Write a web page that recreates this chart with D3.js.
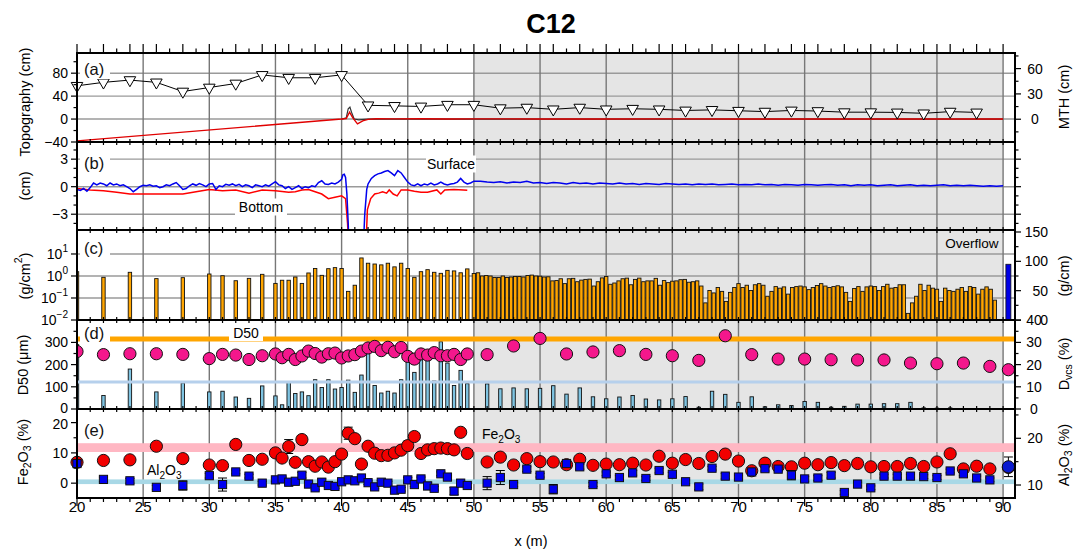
<!DOCTYPE html>
<html><head><meta charset="utf-8">
<script src="https://cdn.jsdelivr.net/npm/d3@7"></script>
<style>body{margin:0;background:#fff;} svg{display:block;font-family:"Liberation Sans",Arial,Helvetica,sans-serif;}</style>
</head><body><svg id="c" width="1084" height="554"></svg>
<script>
// ---------------- DATA ----------------
// (a) Topography / MTH
const triX = [20,22,24,26,28,30,32,34,36,38,40,42,44,46,48,50,52,54,56,58,60,62,64,66,68,70,72,74,76,78,80,82,84,86,88];
const triV = [58,64,68,64,48,55,62,77,72,72,77,24,23,22,25,25,19,20,17,20,17,18,17,15,16,14.5,13,15,14,12,12,11.6,10,13,11.6];
const redTopoX = [20,40,40.35,40.6,40.85,41.2,41.6,42,42.6,44,46,48,50,55,60,65,70,75,80,85,90];
const redTopoV = [-38,0,1,12,2,-8.5,-3,-0.5,0.5,0.3,0.5,0.2,0.3,0.2,0,0.3,0.1,0,0.2,0,0.1];
const blackTopoX = [40,40.35,40.5,40.63,40.75,40.95,41.3,42,44,50,60,70,80,90];
const blackTopoV = [0,2,18,21,12,0,-1.5,0,0,0,0,0,0,0];
// (b) Surface / Bottom (cm)
const surf1Start = 20, surf1Step = 0.25;
const surf1 = [-0.3,-0.4,-0.2,-0.5,-0.1,0.4,0.2,0.4,0.3,0.1,0.4,0.2,0.3,0.1,0.2,0.0,-0.2,-0.55,-0.3,0.0,
  0.15,0.1,0.2,0.05,0.1,-0.1,0.0,0.2,0.1,0.3,0.45,0.1,-0.3,-0.2,0.1,0.3,0.15,0.35,0.2,0.0,
  0.3,0.35,-0.3,0.1,0.0,0.25,0.15,0.3,0.1,0.25,0.0,0.2,0.1,-0.1,0.2,0.1,0.0,0.2,0.05,0.3,
  0.55,0.2,0.1,-0.2,0.0,-0.3,-0.1,0.1,-0.2,0.0,-0.1,0.1,0.0,0.45,0.65,0.3,0.25,0.4,0.3,0.5,0.8];
const surf2X = [40.1,40.2,40.3,40.4,40.5,40.6,41.6,41.75,41.9];
const surf2 = [1.3,1.35,1.0,-0.8,-4,-8,-8,-3,-0.3];
const surf3Start = 42, surf3Step = 0.25;
const surf3 = [0.3,0.9,1.2,1.4,1.5,1.65,1.75,1.5,1.2,1.75,1.5,1.0,0.5,0.2,0.1,0.3,0.1,0.3,0.2,0.4,0.2,0.3,0.5,0.3,0.2,0.3,0.35,0.5,0.9,0.5,0.3,0.4,0.6];
const surf4Start = 50.5, surf4Step = 0.5;
const surf4 = [0.6,0.5,0.45,0.55,0.4,0.5,0.45,0.6,0.4,0.45,0.35,0.45,0.4,0.3,0.45,0.35,0.4,0.3,0.4,0.35,
  0.3,0.4,0.3,0.35,0.25,0.35,0.3,0.25,0.35,0.3,0.25,0.3,0.2,0.3,0.25,0.3,0.2,0.25,0.3,0.2,
  0.25,0.2,0.3,0.2,0.25,0.15,0.25,0.2,0.15,0.25,0.2,0.15,0.2,0.25,0.15,0.2,0.1,0.2,0.15,0.2,
  0.1,0.15,0.2,0.1,0.15,0.2,0.1,0.15,0.1,0.15,0.2,0.1,0.15,0.1,0.15,0.1,0.05,0.1,0.05,0.1];
const botX = [20,21,22,23,24,26,28,29,30,31,32,33,34,35,36,36.5,37,37.5,38,38.5,39,39.5,40,40.3,40.45,40.6,41.8,41.95,42.2,42.5,42.8,43.1,43.4,43.6,43.9,44.2,44.5,45,45.5,46,46.5,47.2,47.5,47.8,48.5,49.2,49.5];
const botV = [-0.2,-0.35,-0.45,-0.6,-0.8,-0.8,-0.8,-0.55,-0.3,-0.45,-0.36,-0.7,-0.36,-0.45,-0.6,-0.55,-0.36,-0.3,-0.55,-0.8,-1.3,-1.15,-1.0,-1.3,-4,-8,-8,-2.5,-1.3,-0.8,-0.7,-0.55,-0.7,-0.35,-0.8,-1.0,-0.35,-0.35,-0.5,-0.6,-0.6,-0.35,-0.8,-0.35,-0.3,-0.35,-0.4];
// sample positions
const sampleX1 = [20,22,24,26,28,30,31,32,33,34,35,35.5,36,36.5,37,37.5,38,38.5,39,39.5,40,40.5,41,41.5,42,42.5,43,43.5,44,44.5,45,45.5,46,46.5,47,47.5,48,48.5,49,49.5];
const sampleX2 = [51,52,53,54,55,56,57,58,59,60,61,62,63,64,65,66,67,68,69,70,71,72,73,74,75,76,77,78,79,80,81,82,83,84,85,86,87,88,89];
const overflowX = 90.4;
// (c) deposit mass (g/cm^2)
const massLeft = [1.57,0.87,1.47,0.76,0.84,1.23,1.03,0.61,0.78,1.19,0.46,0.64,0.64,0.9,0.46,1.37,2.2,1.07,2.15,2.4,2.2,0.2,0.38,6.6,3.8,3.5,3.2,3.8,2.6,3.8,2.2,0.87,1.57,1.94,1.47,1.32,1.8,1.7,1.4,2.1];
const massFineStart = 50, massFineStep = 0.3125;
const massFine = [1.3,1.4,1.0,1.05,1.0,0.85,0.85,1.0,0.85,0.9,0.95,0.95,0.9,1.05,1.1,1.0,0.98,0.9,0.92,0.6,
  0.62,0.75,0.45,0.75,0.78,0.55,0.65,0.7,0.72,0.35,0.55,0.82,0.95,0.42,0.48,0.6,0.75,0.8,0.4,0.7,
  0.8,0.55,0.6,0.6,0.78,0.38,0.62,0.5,0.58,0.6,0.68,0.7,0.52,0.55,0.6,0.35,0.06,0.22,0.17,0.3,
  0.2,0.07,0.18,0.3,0.45,0.3,0.38,0.22,0.4,0.45,0.38,0.12,0.2,0.33,0.28,0.32,0.15,0.3,0.33,0.35,
  0.32,0.24,0.3,0.37,0.45,0.35,0.3,0.33,0.36,0.32,0.18,0.07,0.27,0.33,0.2,0.32,0.35,0.33,0.22,0.33,
  0.42,0.28,0.3,0.4,0.4,0.02,0.06,0.12,0.42,0.22,0.38,0.28,0.25,0.07,0.28,0.22,0.2,0.25,0.3,0.2,
  0.33,0.3,0.15,0.25,0.32,0.25,0.08];
const overflowMass = 95; // g/cm
// (d) grain size
const d50Left = [259,245,249,249,246,227,246,243,223,240,248,231,246,223,239,261,250,234,249,252,230,239,245,261,275,282,263,278,258,277,237,225,248,243,254,240,240,246,223,248];
const d50RightX = [51,53,55,57,59,61,63,65,67,69,71,73,75,77,79,81,83,85,87,89,90.4];
const d50Right = [245,284,318,248,257,263,246,240,219,330,245,225,225,222,221,221,207,204,207,192,177];
const dvcsLeft = [29,6.1,18,7.7,11.7,7.7,8,5.4,4.8,10.4,5.9,1.9,12.2,7,7.7,6,13.2,9.7,13.2,9,9.7,13,7.5,15.3,25.5,10.6,7.2,8,7.2,13.2,23.2,16.5,22.9,22.5,12.6,30.3,20.7,10.6,17.4,11.4];
const dvcsRight = [11.3,9.1,9.5,9.1,9.3,10.5,6.7,9.5,5.5,4.6,5.4,6.1,4.5,4.1,4.6,5.6,0.8,8.0,6.6,3.0,5.5,1.0,1.9,1.6,3.4,3.0,0.8,1.2,2.2,2.2,2.4,2.4,3.0,0.5,0.4,0.5,0.2,0.2,0.2];
const d50Ref = 315, dvcsRef = 12.2;
// (e) chemistry
const feLeft = [6.9,7.5,7.7,12.2,8.1,6.0,5.8,12.8,7.5,7.9,10,8.3,12.1,6.9,14.4,7.1,5.6,7.0,5.3,7.1,9.6,16.5,14.7,6.3,12.2,9.9,9.1,9.2,10,10.9,12.4,15.4,9.8,11,11.4,11.6,11.4,11,16.8,9.8];
const feLeftErr = [0.8,0.6,0.6,0.6,0.6,0.6,0.6,0.8,1.2,0.6,0.6,0.6,2.3,0.6,1.3,0.6,0.6,0.6,0.6,0.6,0.8,2.0,0.6,0.6,0.6,0.6,0.6,0.6,0.6,0.6,1.5,0.6,0.6,1.3,1.3,0.6,0.6,0.6,0.6,0.6];
const feRight = [7.0,8.6,6.0,8.1,7.1,7.0,6.1,7.9,5.9,6.3,6.1,6.6,6.0,8.9,6.6,7.8,6.5,8.8,9.6,7.3,4.1,6.6,5.5,5.4,6.6,6.1,6.8,5.8,6.5,5.4,5.5,5.5,6.5,5.5,7.0,9.7,4.7,5.6,4.7];
const feRightErr = [0.6,0.6,0.5,0.6,0.5,0.5,0.5,0.6,0.5,0.5,0.5,0.6,0.5,0.6,0.5,0.6,0.5,0.6,0.8,0.6,0.5,0.6,0.5,0.5,0.6,0.5,0.5,0.5,0.5,0.5,0.5,0.5,0.5,0.5,0.6,0.8,0.5,0.5,0.5];
const alLeft = [14.6,11.2,10.9,9.5,9.9,12.0,10.1,12.8,11.9,10.4,11.1,11.3,10.6,10.8,12.1,10.2,9.4,10.6,9.9,9.7,10.7,11.1,10.9,11.5,10.5,9.6,10.6,10.4,8.9,9.1,11.1,10.1,11.3,9.8,9.3,12.4,11.7,8.7,10.4,9.9];
const alLeftErr = [0.6,0.5,0.5,0.4,1.0,0.5,1.4,0.4,0.4,0.4,0.4,0.4,0.5,0.4,0.6,0.4,0.4,0.7,0.4,0.4,0.4,0.4,0.4,0.4,0.4,0.4,0.4,0.4,0.4,0.4,0.5,0.4,0.4,0.8,0.4,0.4,0.4,0.8,0.4,0.4];
const alRight = [10.4,11.6,10.1,13.4,12.1,9.1,14.6,13.9,10.1,12.4,11.6,12.6,11.4,13.1,12.3,10.7,9.6,13.6,11.9,11.7,12.8,13.5,13.4,12.1,11.3,11.5,12.1,8.4,10.2,9.4,11.9,11.9,11.9,11.8,11.6,13.0,12.4,11.5,11.1];
const alRightErr = [1.4,1.5,0.4,0.5,0.4,1.0,0.4,0.5,0.4,0.4,0.4,0.5,0.4,0.5,0.4,0.4,0.6,0.4,0.6,0.4,0.5,0.5,0.4,1.0,0.5,0.5,0.6,0.4,0.4,0.4,0.4,0.4,0.4,0.4,0.4,0.4,0.4,0.4,0.4];
const feOverflow = 5.2, feOverflowErr = 1.0, alOverflow = 13.9, alOverflowErr = 2.1;
const feBand = [10.3, 13.2], alBand = [10.2, 11.2];
const xTicks = [20,25,30,35,40,45,50,55,60,65,70,75,80,85,90];

// ---------------- LAYOUT ----------------
const svg = d3.select("#c");
const X0 = 77, X1 = 1015;
const x = d3.scaleLinear().domain([20, 90.9]).range([X0, X1]);
const P = {a:[53,142], b:[142,230], c:[230,320], d:[320,409], e:[409,498]};
const yA = d3.scaleLinear().domain([-40, 115.2]).range([142, 53]);
const yMTH = d3.scaleLinear().domain([-27, 78.5]).range([142, 53]);
const yB = d3.scaleLinear().domain([-4.72, 4.87]).range([230, 142]);
const yC = d3.scaleLog().domain([0.01, 123]).range([320, 230]);
const yCr = d3.scaleLinear().domain([0, 153.4]).range([320, 230]);
const yD = d3.scaleLinear().domain([0, 401]).range([409, 320]);
const yDr = d3.scaleLinear().domain([0, 40.1]).range([409, 320]);
const yE = d3.scaleLinear().domain([-4.9, 24.5]).range([498, 409]);
const yEr = d3.scaleLinear().domain([7.22, 26.27]).range([498, 409]);
const FS = 14;
const defs = svg.append("defs");
Object.entries(P).forEach(([k,[t,b]]) => {
  defs.append("clipPath").attr("id","clip-"+k).append("rect").attr("x",X0).attr("y",t).attr("width",X1-X0).attr("height",b-t);
});
function layer(k){ return svg.append("g").attr("clip-path","url(#clip-"+k+")"); }
function addRich(t, parts, fs){
  let off = 0;
  parts.forEach(([s,m]) => {
    const ts = t.append("tspan").text(s);
    const target = m==="sub" ? fs*0.3 : m==="sup" ? -fs*0.45 : 0;
    ts.attr("dy", target-off); off = target;
    if (m) ts.attr("font-size", fs*0.72);
  });
}

// grey region
svg.append("rect").attr("x",x(50)).attr("y",53).attr("width",x(90)-x(50)).attr("height",498-53).attr("fill","#e5e5e5");

// horizontal grids
const gridG = svg.append("g").attr("stroke","#9a9a9a").attr("stroke-width",1.4);
[[yA,[80,40,0]],[yB,[3,0,-3]],[yC,[10,1,0.1]]].forEach(([s,vals]) => {
  vals.forEach(v => gridG.append("line").attr("x1",X0).attr("x2",X1).attr("y1",s(v)).attr("y2",s(v)));
});
// vertical grids
const vg = svg.append("g").attr("stroke","#777").attr("stroke-width",1.4);
xTicks.filter(v => v>20).forEach(v => vg.append("line").attr("x1",x(v)).attr("x2",x(v)).attr("y1",53).attr("y2",498));

// ---------- (a) ----------
const gA = layer("a");
gA.append("path").datum(blackTopoX.map((v,i)=>[v,blackTopoV[i]]))
  .attr("d", d3.line().x(d=>x(d[0])).y(d=>yA(d[1]))).attr("fill","none").attr("stroke","#333").attr("stroke-width",1.2);
gA.append("path").datum(redTopoX.map((v,i)=>[v,redTopoV[i]]))
  .attr("d", d3.line().x(d=>x(d[0])).y(d=>yA(d[1]))).attr("fill","none").attr("stroke","#e00000").attr("stroke-width",1.4);
const triData = triX.map((v,i)=>[v,triV[i]]);
svg.append("path").datum(triData).attr("d", d3.line().x(d=>x(d[0])).y(d=>yA(d[1])))
  .attr("fill","none").attr("stroke","#000").attr("stroke-width",1);
const triSym = d3.symbol().type(d3.symbolTriangle).size(58);
svg.append("g").selectAll("path").data(triData).join("path")
  .attr("d", triSym).attr("transform", d=>`translate(${x(d[0])},${yA(d[1])}) rotate(180)`)
  .attr("fill","#fff").attr("stroke","#000").attr("stroke-width",1);

// ---------- (b) ----------
const gB = layer("b");
const surfPts = [];
surf1.forEach((v,i)=>surfPts.push([surf1Start+i*surf1Step, v]));
surf2.forEach((v,i)=>surfPts.push([surf2X[i], v]));
surf3.forEach((v,i)=>surfPts.push([surf3Start+i*surf3Step, v]));
surf4.forEach((v,i)=>surfPts.push([surf4Start+i*surf4Step, v]));
gB.append("path").datum(botX.map((v,i)=>[v,botV[i]])).attr("d", d3.line().x(d=>x(d[0])).y(d=>yB(d[1])))
  .attr("fill","none").attr("stroke","#f00").attr("stroke-width",1.5);
gB.append("path").datum(surfPts).attr("d", d3.line().x(d=>x(d[0])).y(d=>yB(d[1])))
  .attr("fill","none").attr("stroke","#0000ee").attr("stroke-width",1.5);

// ---------- (c) ----------
const gC = layer("c");
const cBars = sampleX1.map((v,i)=>[v,massLeft[i]]).concat(massFine.map((v,i)=>[massFineStart+i*massFineStep, v]));
gC.selectAll("rect.m").data(cBars).join("rect").attr("class","m")
  .attr("x", d=>x(d[0])-1.7).attr("width",3.4).attr("y", d=>yC(d[1])).attr("height", d=>yC(0.01)-yC(d[1]))
  .attr("fill","#ffa500").attr("stroke","#111").attr("stroke-width",0.9);
gC.append("rect").attr("x", x(overflowX)-2.5).attr("width",5).attr("y", yCr(overflowMass)).attr("height", yCr(0)-yCr(overflowMass))
  .attr("fill","#0000e6").attr("stroke","#111").attr("stroke-width",0.8);

// ---------- (d) ----------
const gD = layer("d");
const dBars = sampleX1.map((v,i)=>[v,dvcsLeft[i]]).concat(sampleX2.map((v,i)=>[v,dvcsRight[i]]));
gD.selectAll("rect.v").data(dBars).join("rect").attr("class","v")
  .attr("x", d=>x(d[0])-1.7).attr("width",3.4).attr("y", d=>yDr(d[1])).attr("height", d=>yDr(0)-yDr(d[1]))
  .attr("fill","#7fc4e2").attr("stroke","#111").attr("stroke-width",0.9);
gD.append("line").attr("x1",X0).attr("x2",X1).attr("y1",yD(d50Ref)).attr("y2",yD(d50Ref)).attr("stroke","#ffa500").attr("stroke-width",5);
gD.append("line").attr("x1",X0).attr("x2",X1).attr("y1",yDr(dvcsRef)).attr("y2",yDr(dvcsRef)).attr("stroke","#b6d0ec").attr("stroke-width",3);
const dPts = sampleX1.map((v,i)=>[v,d50Left[i]]).concat(d50RightX.map((v,i)=>[v,d50Right[i]]));
gD.selectAll("circle").data(dPts).join("circle").attr("cx", d=>x(d[0])).attr("cy", d=>yD(d[1])).attr("r",6.1)
  .attr("fill","#f4178c").attr("stroke","#111").attr("stroke-width",1);

// ---------- (e) ----------
const gE = svg.append("g");
gE.append("rect").attr("x",X0).attr("width",X1-X0).attr("y",yE(feBand[1])).attr("height",yE(feBand[0])-yE(feBand[1])).attr("fill","#ffb7c3");
gE.append("rect").attr("x",X0).attr("width",X1-X0).attr("y",yEr(alBand[1])).attr("height",yEr(alBand[0])-yEr(alBand[1])).attr("fill","#a8d8e6");
const fePts = sampleX1.map((v,i)=>[v,feLeft[i],feLeftErr[i]]).concat(sampleX2.map((v,i)=>[v,feRight[i],feRightErr[i]]));
fePts.push([overflowX, feOverflow, feOverflowErr]);
const alPts = sampleX1.map((v,i)=>[v,alLeft[i],alLeftErr[i]]).concat(sampleX2.map((v,i)=>[v,alRight[i],alRightErr[i]]));
function errBars(g, pts, s){
  pts.forEach(d => {
    const cx = x(d[0]), y1 = s(d[1]-d[2]), y2 = s(d[1]+d[2]);
    g.append("line").attr("x1",cx).attr("x2",cx).attr("y1",y1).attr("y2",y2).attr("stroke","#000").attr("stroke-width",1);
    [y1,y2].forEach(yy => g.append("line").attr("x1",cx-4.5).attr("x2",cx+4.5).attr("y1",yy).attr("y2",yy).attr("stroke","#000").attr("stroke-width",1));
  });
}
errBars(gE, fePts, yE);
gE.selectAll("circle.fe").data(fePts).join("circle").attr("class","fe").attr("cx", d=>x(d[0])).attr("cy", d=>yE(d[1])).attr("r",6.1)
  .attr("fill","#f20000").attr("stroke","#111").attr("stroke-width",1);
errBars(gE, alPts, yEr);
gE.selectAll("rect.al").data(alPts).join("rect").attr("class","al").attr("x", d=>x(d[0])-4.1).attr("y", d=>yEr(d[1])-4.1)
  .attr("width",8.2).attr("height",8.2).attr("fill","#0000f0").attr("stroke","#111").attr("stroke-width",1);
errBars(gE, [[overflowX, alOverflow, alOverflowErr]], yEr);
gE.append("circle").attr("cx", x(overflowX)).attr("cy", yEr(alOverflow)).attr("r",6.1).attr("fill","#0a1ad0").attr("stroke","#111").attr("stroke-width",1);

// ---------- annotations ----------
const ann = svg.append("g").attr("font-size",16.5).attr("fill","#111");
[["(a)",69],["(b)",163],["(c)",248],["(d)",333],["(e)",430]].forEach(([t,yy]) => {
  ann.append("rect").attr("x",80).attr("y",yy-10).attr("width",30).attr("height",20).attr("fill","#fff");
  ann.append("text").attr("x",84).attr("y",yy).attr("dominant-baseline","central").text(t);
});
function boxLabel(t, cx, cy, w, h){
  svg.append("rect").attr("x",cx-w/2).attr("y",cy-h/2).attr("width",w).attr("height",h).attr("fill","#fff");
  svg.append("text").attr("x",cx).attr("y",cy).attr("text-anchor","middle").attr("dominant-baseline","central").attr("font-size",14).text(t);
}
boxLabel("Surface", 451, 164, 50, 17);
boxLabel("Bottom", 261, 207, 52, 17);
boxLabel("D50", 246, 333, 34, 16);
svg.append("text").attr("x",972).attr("y",243).attr("text-anchor","middle").attr("dominant-baseline","central").attr("font-size",13.5).text("Overflow");
addRich(svg.append("text").attr("x",147).attr("y",475).attr("font-size",14), [["Al",""],["2","sub"],["O",""],["3","sub"]], 14);
addRich(svg.append("text").attr("x",482).attr("y",439).attr("font-size",14), [["Fe",""],["2","sub"],["O",""],["3","sub"]], 14);

// ---------- frames and x ticks ----------
const fr = svg.append("g").attr("fill","none").attr("stroke","#000");
Object.values(P).forEach(([t,b]) => fr.append("rect").attr("x",X0).attr("y",t).attr("width",X1-X0).attr("height",b-t).attr("stroke-width",2));
const tk = svg.append("g").attr("stroke","#000").attr("stroke-width",1.2);
const ones = d3.range(20, 91, 1);
ones.forEach(v => {
  const xx = x(v);
  tk.append("line").attr("x1",xx).attr("x2",xx).attr("y1",53).attr("y2",53-(v%2===0||v%5===0?9:4.5));
  tk.append("line").attr("x1",xx).attr("x2",xx).attr("y1",498).attr("y2",498+(v%5===0?8:4));
  [142,230,320,409].forEach(yy => {
    tk.append("line").attr("x1",xx).attr("x2",xx).attr("y1",yy-3).attr("y2",yy+3);
  });
});
svg.append("g").attr("font-size",15).attr("text-anchor","middle").selectAll("text").data(xTicks).join("text")
  .attr("x", d=>x(d)).attr("y",512).text(d=>d);
svg.append("text").attr("x",531).attr("y",546).attr("text-anchor","middle").attr("font-size",14.5).text("x (m)");

// ---------- y axes ----------
const fmt = v => v < 0 ? "\u2212"+Math.abs(v) : String(v);
function yAxis(s, side, majors, minors, labels, anchor, lx, dyFix){
  const g = svg.append("g");
  const x0 = side==="L" ? X0 : X1, dir = side==="L" ? -1 : 1;
  majors.forEach(v => g.append("line").attr("x1",x0).attr("x2",x0+dir*6).attr("y1",s(v)).attr("y2",s(v)).attr("stroke","#000").attr("stroke-width",1.2));
  minors.forEach(v => g.append("line").attr("x1",x0).attr("x2",x0+dir*3.5).attr("y1",s(v)).attr("y2",s(v)).attr("stroke","#000").attr("stroke-width",1.2));
  if (labels) majors.forEach((v,i) => {
    const t = g.append("text").attr("x",lx).attr("y",s(v)+((dyFix&&dyFix[i])||0)).attr("dominant-baseline","central").attr("text-anchor",anchor).attr("font-size",FS);
    const lab = labels[i];
    if (Array.isArray(lab)) addRich(t, lab, FS); else t.text(lab);
  });
}
yAxis(yA,"L",[80,40,0,-40],[100,60,20,-20],[80,40,0,-40].map(fmt),"end",68);
yAxis(yMTH,"R",[60,30,0],[75,45,15,-15],["60","30","0"],"middle",1035);
yAxis(yB,"L",[3,0,-3],[4,2,1,-1,-2,-4],["3","0","\u22123"],"end",68);
yAxis(yB,"R",[3,0,-3],[4,2,1,-1,-2,-4],null);
yAxis(yC,"L",[10,1,0.1,0.01],[],[[["10",""],["1","sup"]],[["10",""],["0","sup"]],[["10",""],["\u22121","sup"]],[["10",""],["\u22122","sup"]]],"end",68);
yAxis(yCr,"R",[150,100,50,0],[125,75,25],["150","100","50","0"],"end",1048);
yAxis(yD,"L",[300,200,100,0],[350,250,150,50],["300","200","100","0"],"end",68,[0,0,0,-1]);
yAxis(yDr,"R",[40,30,20,10,0],[35,25,15,5],["40","30","20","10","0"],"middle",1034);
yAxis(yE,"L",[20,10,0],[15,5],["20","10","0"],"end",68,[1,0,0]);
yAxis(yEr,"R",[20,10],[25,15],["20","10"],"middle",1035);

// axis titles
function vTitle(cx, cy, parts){
  const t = svg.append("text").attr("transform",`translate(${cx},${cy}) rotate(-90)`).attr("text-anchor","middle")
    .attr("dominant-baseline","central").attr("font-size",14.5);
  addRich(t, parts, 14.5);
}
vTitle(25, 102, [["Topography (cm)",""]]);
vTitle(25, 186, [["(cm)",""]]);
vTitle(25, 276, [["(g/cm",""],["2","sup"],[")",""]]);
vTitle(23, 365, [["D50 (\u03bcm)",""]]);
vTitle(23, 452, [["Fe",""],["2","sub"],["O",""],["3","sub"],[" (%)",""]]);
vTitle(1064, 97, [["MTH (cm)",""]]);
vTitle(1064, 276, [["(g/cm)",""]]);
vTitle(1064, 364, [["D",""],["vcs","sub"],[" (%)",""]]);
vTitle(1064, 455, [["Al",""],["2","sub"],["O",""],["3","sub"],[" (%)",""]]);

svg.append("text").attr("x",551).attr("y",33).attr("text-anchor","middle").attr("font-size",27).attr("font-weight","bold").text("C12");
</script></body></html>
